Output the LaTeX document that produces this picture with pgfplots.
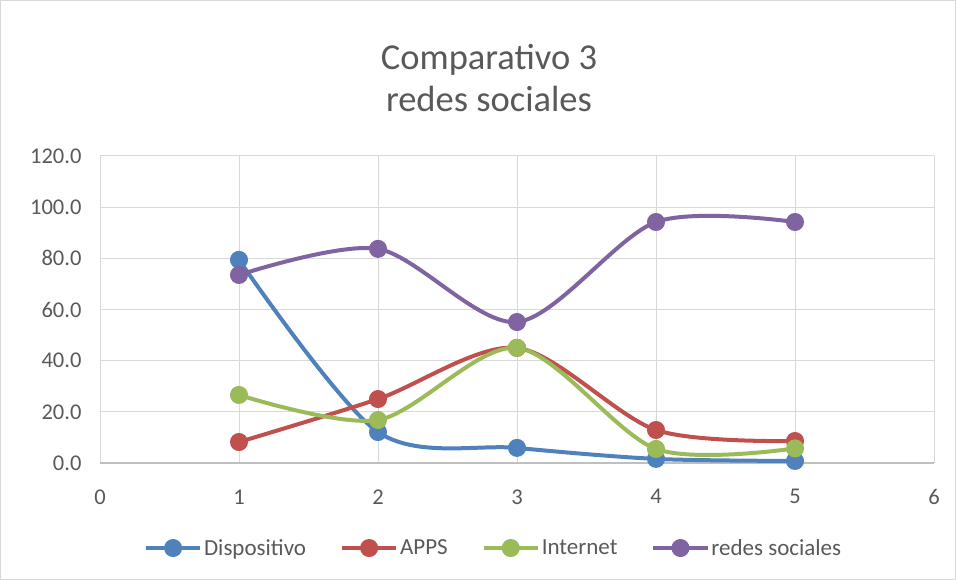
\documentclass[border=0pt]{standalone}
\usepackage{fontspec}
\setmainfont{Carlito}
\usepackage{pgfplots}
\pgfplotsset{compat=1.18}
\definecolor{cblue}{RGB}{79,129,189}
\definecolor{cred}{RGB}{192,80,77}
\definecolor{cgreen}{RGB}{155,187,89}
\definecolor{cpurple}{RGB}{128,100,162}
\definecolor{cgrid}{RGB}{217,217,217}
\definecolor{caxis}{RGB}{191,191,191}
\definecolor{ctext}{RGB}{89,89,89}
\begin{document}
\begin{tikzpicture}[x=1pt,y=1pt]
\draw[cgrid,line width=1pt] (0.5,0.5) rectangle (955.5,579.5);
\node[anchor=base,text=ctext,font=\fontsize{36.5}{43}\selectfont] at (489,510) {Comparativo 3};
\node[anchor=base,text=ctext,font=\fontsize{36.5}{43}\selectfont] at (489,468) {redes sociales};
\begin{axis}[
  at={(100pt,117pt)}, anchor=south west,
  scale only axis, width=834pt, height=307pt,
  xmin=0, xmax=6, ymin=0, ymax=120,
  xtick={0,1,2,3,4,5,6}, ytick={0,20,40,60,80,100,120},
  grid=major, major grid style={cgrid,line width=1pt},
  axis line style={draw=none},
  tick style={draw=none},
  yticklabel style={/pgf/number format/fixed,/pgf/number format/fixed zerofill,/pgf/number format/precision=1},
  /pgf/number format/assume math mode=true,
  ticklabel style={text=ctext,font=\fontsize{22.5}{27}\selectfont},
  xticklabel style={yshift=-23pt},
  yticklabel style={xshift=-15pt},
  clip=false,
  legend columns=4,
  legend style={at={(0.472,-0.277)},anchor=center,draw=none,fill=none,
    font=\fontsize{23}{28}\selectfont,text=ctext,
    /tikz/every even column/.append style={column sep=32pt}},
  legend image code/.code={\draw[#1,mark repeat=2,mark phase=2] plot coordinates {(0pt,0pt) (27pt,0pt) (54pt,0pt)};},
  every axis plot/.append style={line width=4pt, smooth, mark=*, mark size=7pt, mark options={line width=0pt}},
]
\draw[caxis,line width=1.5pt] (axis cs:0,0) -- (axis cs:6,0);
\addplot[cblue, mark options={fill=cblue,draw=cblue}] coordinates {(1,79.4) (2,12.1) (3,5.9) (4,1.6) (5,0.8)};
\addlegendentry{Dispositivo}
\addplot[cred, mark options={fill=cred,draw=cred}] coordinates {(1,8.2) (2,25.0) (3,45.0) (4,12.9) (5,8.6)};
\addlegendentry{APPS}
\addplot[cgreen, mark options={fill=cgreen,draw=cgreen}] coordinates {(1,26.6) (2,16.8) (3,45.0) (4,5.5) (5,5.7)};
\addlegendentry{Internet}
\addplot[cpurple, mark options={fill=cpurple,draw=cpurple}] coordinates {(1,73.5) (2,83.7) (3,55.1) (4,94.2) (5,94.2)};
\addlegendentry{redes sociales}
\end{axis}
\end{tikzpicture}
\end{document}
